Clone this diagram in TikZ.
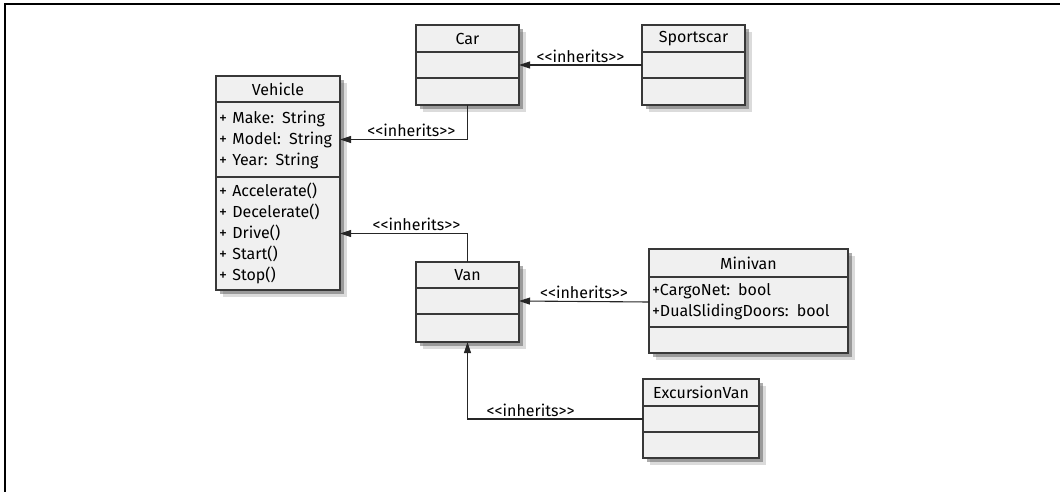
\documentclass[tikz,border=0pt]{standalone}
\usepackage{fontspec}
\newfontfamily\umlfont{Fira Sans}
\usetikzlibrary{arrows.meta, positioning, shadows}

\begin{document}
\begin{tikzpicture}[
  x=1pt, y=-1pt,
  box/.style={rectangle, draw=black!78, line width=1.3pt, fill=black!6,
              outer sep=0pt, inner sep=0pt, text=black,
              font=\umlfont\fontsize{16}{21}\selectfont,
              drop shadow={shadow xshift=7pt, shadow yshift=-7pt,
                           fill=black!40, opacity=0.35},
              drop shadow={shadow xshift=4pt, shadow yshift=-4pt,
                           fill=black!65, opacity=0.5}},
  hdr/.style={box, align=center, anchor=north west},
  cmp/.style={box, align=left, inner xsep=3pt},
  inh/.style={-{Triangle[length=11pt, width=7pt]}, draw=black!85, line width=1.1pt},
  lbl/.style={font=\umlfont\fontsize{16}{21}\selectfont, text=black,
              above, inner sep=2pt},
  node distance=0pt
]
  \useasboundingbox (0,0) rectangle (1060,492);
  \draw[line width=2pt] (5,492) -- (5,4) -- (1060,4);

  % Vehicle
  \node[hdr, minimum width=124pt, minimum height=26pt] (veh) at (216,76) {Vehicle};
  \node[cmp, minimum width=124pt, minimum height=75pt, text width=118pt, below=of veh] (veh-a)
    {+ Make: String\\+ Model: String\\+ Year: String};
  \node[cmp, minimum width=124pt, minimum height=113pt, text width=118pt, below=of veh-a] (veh-o)
    {+ Accelerate()\\+ Decelerate()\\+ Drive()\\+ Start()\\+ Stop()};

  % Car
  \node[hdr, minimum width=103pt, minimum height=27pt] (car) at (416,25) {Car};
  \node[cmp, minimum width=103pt, minimum height=26pt, below=of car] (car-a) {};
  \node[cmp, minimum width=103pt, minimum height=27pt, below=of car-a] (car-o) {};

  % Sportscar
  \node[hdr, minimum width=103pt, minimum height=27pt] (sport) at (642,25) {Sportscar};
  \node[cmp, minimum width=103pt, minimum height=26pt, below=of sport] (sport-a) {};
  \node[cmp, minimum width=103pt, minimum height=27pt, below=of sport-a] (sport-o) {};

  % Van
  \node[hdr, minimum width=103pt, minimum height=26pt] (van) at (416,262) {Van};
  \node[cmp, minimum width=103pt, minimum height=26pt, below=of van] (van-a) {};
  \node[cmp, minimum width=103pt, minimum height=28pt, below=of van-a] (van-o) {};

  % Minivan
  \node[hdr, minimum width=199pt, minimum height=28pt] (mini) at (649,249) {Minivan};
  \node[cmp, minimum width=199pt, minimum height=50pt, text width=193pt, below=of mini] (mini-a)
    {+CargoNet: bool\\+DualSlidingDoors: bool};
  \node[cmp, minimum width=199pt, minimum height=26pt, below=of mini-a] (mini-o) {};

  % ExcursionVan
  \node[hdr, minimum width=116pt, minimum height=27pt] (exc) at (643,379) {ExcursionVan};
  \node[cmp, minimum width=116pt, minimum height=26pt, below=of exc] (exc-a) {};
  \node[cmp, minimum width=116pt, minimum height=26pt, below=of exc-a] (exc-o) {};

  % inheritance
  \draw[inh] (sport-a.west) -- node[lbl, midway] {<<inherits>>} (car-a.east);
  \draw[inh] (car-o.south) |- node[lbl, pos=0.72] {<<inherits>>} (veh-a.east);
  \draw[inh] (van.north) |- node[lbl, pos=0.7] {<<inherits>>} (veh-o.east);
  \draw[inh] (mini-a.west) -- node[lbl, midway] {<<inherits>>} (van-a.east);
  \draw[inh] (exc-a.west) -| node[lbl, pos=0.32] {<<inherits>>} (van-o.south);
\end{tikzpicture}
\end{document}
